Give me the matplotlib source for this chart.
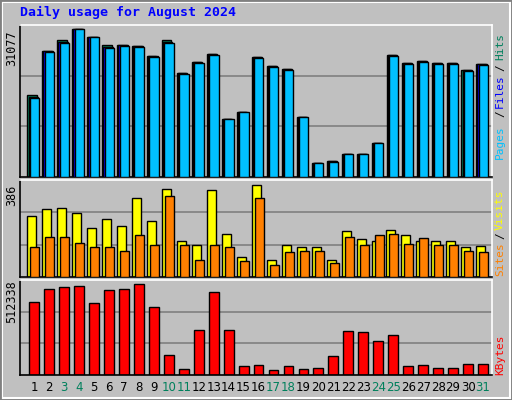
import matplotlib
matplotlib.use("Agg")
import matplotlib.pyplot as plt
import numpy as np
from matplotlib.patches import Rectangle

days = list(range(1, 32))
weekend = [3, 4, 10, 11, 17, 18, 24, 25, 31]
hits = [17124, 26425, 28750, 31077, 29385, 27694, 27694, 27482, 25368, 28750, 21774, 24100, 25791, 12261, 13741, 25157,
        23254, 22620, 12684, 2960, 3382, 4862, 4862, 7188, 25580, 23888, 24311, 23888, 23888, 22409, 23677]
files = [16700, 26425, 28300, 31077, 29385, 27200, 27694, 27482, 25368, 28300, 21774, 24100, 25791, 12261, 13741, 25157,
         23254, 22620, 12684, 2960, 3382, 4862, 4862, 7188, 25580, 23888, 24311, 23888, 23888, 22409, 23677]
pages = [16600, 26300, 28200, 31000, 29300, 27100, 27600, 27300, 25250, 28200, 21650, 24000, 25650, 12150, 13650, 25050,
         23150, 22500, 12550, 2850, 3250, 4750, 4750, 7050, 25450, 23750, 24200, 23750, 23750, 22300, 23550]
visits = [256, 286, 290, 269, 206, 244, 214, 332, 235, 370, 151, 134, 365, 181, 84, 386,
          71, 134, 126, 126, 71, 193, 160, 151, 197, 176, 151, 151, 151, 126, 130]
sites = [126, 168, 168, 143, 126, 126, 109, 176, 134, 340, 134, 71, 134, 126, 67, 332,
         50, 105, 109, 109, 59, 168, 134, 176, 181, 139, 164, 134, 134, 109, 105]
kbytes = [411000, 484200, 495400, 501100, 405400, 478600, 484200, 512338, 382800, 112600, 33800, 253400, 467300, 253400,
          50700, 56300, 28200, 50700, 33800, 39400, 107000, 247700, 242100, 191400, 225200, 50700, 56300, 39400, 39400,
          61900, 61900]

BG = "#c0c0c0"
fig = plt.figure(figsize=(5.12, 4.0), dpi=100, facecolor=BG)
fig.patches.append(Rectangle((0.004, 0.004), 0.992, 0.992, transform=fig.transFigure,
                             fill=False, edgecolor="white", lw=1.5))
fig.patches.append(Rectangle((0.0, 0.0), 1, 1, transform=fig.transFigure,
                             fill=False, edgecolor="#808080", lw=2))

W, H = 512, 400
def mk(top, bot):
    return fig.add_axes([20 / W, 1 - bot / H, 472 / W, (bot - top) / H], facecolor=BG)

x = np.array(days)
mono = "DejaVu Sans Mono"

def style(ax, ymax):
    ax.set_xlim(0.06, 31.6)
    ax.set_ylim(0, ymax)
    for f in (1 / 3, 2 / 3):
        ax.axhline(ymax * f, color="#808080", lw=1.2, zorder=0)
    ax.set_xticks([]); ax.set_yticks([])
    for s in ax.spines.values():
        s.set_color("black"); s.set_linewidth(1.2)
    ax.spines["right"].set_color("white"); ax.spines["top"].set_color("white")

def side(items):
    for txt, c, yy in items:
        fig.text(500 / W, 1 - yy / H, txt, rotation=90, ha="center", va="center",
                 fontsize=8, color=c, family=mono)

ec = dict(edgecolor="black", linewidth=1)

ax1 = mk(25, 177)
style(ax1, 31077 * 1.027)
ax1.bar(x - 0.13, hits, 0.62, color="#00805c", zorder=2, **ec)
ax1.bar(x - 0.06, files, 0.62, color="#0000ff", zorder=3, **ec)
ax1.bar(x + 0.02, pages, 0.62, color="#00c0ff", zorder=4, **ec)
fig.text(12 / W, 1 - 48 / H, "31077", rotation=90, ha="center", va="center", fontsize=8.5, family=mono)
side([("Pages", "#00c0ff", 142), ("/", "black", 114), ("Files", "#0000ff", 91), ("/", "black", 68),
      ("Hits", "#00805c", 46)])

ax2 = mk(180, 277)
style(ax2, 386 * 1.054)
ax2.bar(x - 0.15, visits, 0.6, color="#ffff00", zorder=2, **ec)
ax2.bar(x + 0.05, sites, 0.6, color="#ff8000", zorder=3, **ec)
fig.text(12 / W, 1 - 195 / H, "386", rotation=90, ha="center", va="center", fontsize=8.5, family=mono)
side([("Sites", "#ff8000", 259), ("/", "black", 236), ("Visits", "#ffff00", 210)])

ax3 = mk(280, 375)
style(ax3, 512338 * 1.044)
ax3.bar(x, kbytes, 0.66, color="#ff0000", zorder=2, **ec)
fig.text(12 / W, 1 - 302 / H, "512338", rotation=90, ha="center", va="center", fontsize=8.5, family=mono)
side([("KBytes", "#ff0000", 355)])

ax3.set_xticks(x)
ax3.set_xticklabels([str(d) for d in days], fontsize=8.5, family="DejaVu Sans")
ax3.tick_params(axis="x", length=0, pad=4)
for lab, d in zip(ax3.get_xticklabels(), days):
    lab.set_color("#00805c" if d in weekend else "black")

fig.text(20 / W, 1 - 12 / H, "Daily usage for August 2024", ha="left", va="center",
         fontsize=9.5, color="#0000ff", family=mono, weight="bold")

fig.savefig("out.png", dpi=100, facecolor=BG)
